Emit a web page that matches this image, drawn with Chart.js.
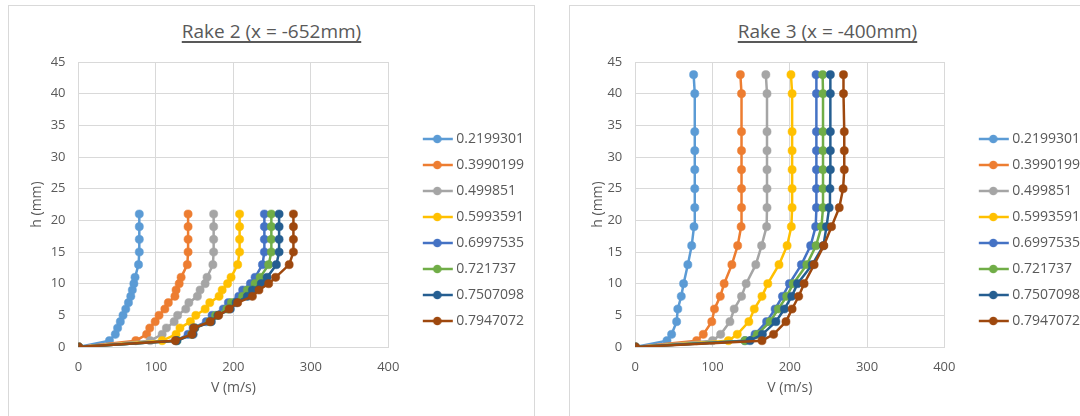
<!DOCTYPE html>
<html>
<head>
<meta charset="utf-8">
<script src="https://cdn.jsdelivr.net/npm/chart.js@4.4.1/dist/chart.umd.min.js"></script>
<style>
  body { margin: 0; background: #fff; width: 1080px; height: 416px; overflow: hidden; position: relative; font-family: 'Open Sans', sans-serif; }
  .panel { position: absolute; top: 5px; height: 430px; border: 1px solid #d9d9d9; box-sizing: border-box; background: #fff; }
  .title { position: absolute; top: 19px; line-height: 24px; text-align: center; font-size: 19px; color: #595959; }
  .title span { text-decoration: underline; text-underline-offset: 3px; text-decoration-thickness: 1.5px; }
  canvas { position: absolute; }
</style>
</head>
<body>
<div class="panel" style="left:8px; width:527px;"></div>
<div class="panel" style="left:569px; width:530px;"></div>
<div class="title" style="left:8px; width:527px;"><span>Rake 2 (x = -652mm)</span></div>
<div class="title" style="left:569px; width:517px;"><span>Rake 3 (x = -400mm)</span></div>
<canvas id="rake2" width="526" height="393" style="left:8px; top:5px;"></canvas>
<canvas id="rake3" width="526" height="393" style="left:569px; top:5px;"></canvas>
<script>
// series names (legend) and colours
var machLabels = ['0.2199301', '0.3990199', '0.499851', '0.5993591', '0.6997535', '0.721737', '0.7507098', '0.7947072'];
var lineColors = ['#5B9BD5', '#ED7D31', '#A5A5A5', '#FFC000', '#4472C4', '#70AD47', '#255E91', '#9E480E'];

// axis ticks
var xTicks = [0, 100, 200, 300, 400];
var yTicks = [0, 5, 10, 15, 20, 25, 30, 35, 40, 45];

// Rake 2 (x = -652mm): h (mm) and V (m/s) for each series
var rake2H  = [0, 1, 2, 3, 4, 5, 6, 7, 8, 9, 10, 11, 13, 15, 17, 19, 21];
var rake2V1 = [0, 40, 47.5, 50.5, 54, 57.5, 61, 64.5, 67.5, 69.5, 71.5, 73, 77.5, 78.5, 78.5, 78.5, 78.5];
var rake2V2 = [0, 74, 88, 92, 99, 104, 111.5, 116, 124.5, 126, 130, 132.5, 140.5, 141.5, 141.5, 141.5, 141.5];
var rake2V3 = [0, 92.5, 108, 113.5, 123.5, 128, 138.5, 142.5, 153.5, 157, 163.5, 166, 173.5, 174.5, 174.5, 174.5, 174.5];
var rake2V4 = [0, 108, 126, 131, 144.5, 151.5, 163.5, 169.5, 181.5, 185.5, 192.5, 197, 205.5, 208, 208, 208, 208];
var rake2V5 = [0, 126, 141.5, 148, 165, 172.5, 187, 193.5, 207, 212, 222, 228, 237.5, 240, 240, 240, 240];
var rake2V6 = [0, 127, 146, 150, 169.5, 177, 191.5, 197.5, 212, 218, 228, 234.5, 245.5, 249, 249, 249, 249];
var rake2V7 = [0, 127, 148, 150, 171.5, 180, 196, 203.5, 218, 224.5, 236, 243.5, 255.5, 259, 259, 259, 259];
var rake2V8 = [0, 125, 146.5, 149, 170, 181, 194.5, 205.5, 224.5, 233, 245.5, 254.5, 272, 277.5, 277.5, 277.5, 277.5];

// Rake 3 (x = -400mm)
var rake3H  = [0, 1, 2, 4, 6, 8, 10, 13, 16, 19, 22, 25, 28, 31, 34, 40, 43];
var rake3V1 = [0, 41, 47, 53.5, 55, 59.5, 62.5, 68, 73, 76, 77, 77, 77, 77, 77, 77, 75.5];
var rake3V2 = [0, 79.5, 88, 99, 102.5, 110, 115, 125, 132.5, 137, 137.5, 137.5, 137.5, 137.5, 137.5, 137.5, 136];
var rake3V3 = [0, 100, 110.5, 122.5, 128, 137.5, 143.5, 156, 163.5, 170, 170.5, 170.5, 170.5, 170.5, 170.5, 170.5, 169];
var rake3V4 = [0, 120.5, 132, 147, 154, 164, 171.5, 186, 196.5, 202, 203, 203, 203, 203, 203, 203, 201.5];
var rake3V5 = [0, 142, 155, 170, 181, 190.5, 199.5, 215, 227, 233.5, 234.5, 234.5, 234.5, 234.5, 234.5, 234.5, 234];
var rake3V6 = [0, 142, 158, 174.5, 185, 196, 204.5, 222, 234, 241, 243, 243, 243, 243, 243, 243, 242.5];
var rake3V7 = [0, 148.5, 164.5, 182, 193, 202.5, 210, 229, 243.5, 247.5, 251, 252, 252.5, 252.5, 252.5, 252.5, 252.5];
var rake3V8 = [0, 164, 179, 195, 203, 211.5, 218.5, 231.5, 244, 254, 264, 269, 270.5, 270.5, 270.5, 269.5, 269.5];

var rake2Series = [rake2V1, rake2V2, rake2V3, rake2V4, rake2V5, rake2V6, rake2V7, rake2V8];
var rake3Series = [rake3V1, rake3V2, rake3V3, rake3V4, rake3V5, rake3V6, rake3V7, rake3V8];

Chart.defaults.font.family = "'Open Sans', sans-serif";
Chart.defaults.color = '#595959';

// little line + dot picture for the legend, like excel draws it
function legendIcon(color) {
    var c = document.createElement('canvas');
    c.width = 60;
    c.height = 12;
    var g = c.getContext('2d');
    g.strokeStyle = color;
    g.lineWidth = 2.5;
    g.beginPath();
    g.moveTo(28, 6);
    g.lineTo(58, 6);
    g.stroke();
    g.fillStyle = color;
    g.beginPath();
    g.arc(42.5, 6, 4.3, 0, Math.PI * 2);
    g.fill();
    return c;
}
var icons = lineColors.map(legendIcon);

function makeChart(id, hValues, series, yWidth, plotRight) {
    var datasets = series.map(function (vals, i) {
        return {
            label: machLabels[i],
            data: vals.map(function (v, k) { return {x: v, y: hValues[k]}; }),
            showLine: true,
            borderColor: lineColors[i],
            backgroundColor: lineColors[i],
            pointBackgroundColor: lineColors[i],
            pointBorderColor: lineColors[i],
            borderWidth: 2.5,
            pointRadius: 4.1,
            pointBorderWidth: 0.5,
            order: series.length - i
        };
    });
    var grid = {color: '#D9D9D9', lineWidth: 1, drawTicks: false};
    var chart = new Chart(document.getElementById(id), {
        type: 'scatter',
        data: {datasets: datasets},
        options: {
            responsive: false,
            animation: false,
            devicePixelRatio: 1,
            layout: {padding: {top: 57, left: 0, bottom: 0, right: 8}},
            plugins: {
                tooltip: {enabled: false},
                legend: {
                    position: 'right',
                    align: 'center',
                    maxWidth: 220,
                    labels: {
                        usePointStyle: true,
                        pointStyleWidth: 49,
                        padding: 12,
                        color: '#595959',
                        font: {size: 14},
                        sort: function (a, b) { return a.datasetIndex - b.datasetIndex; },
                        generateLabels: function (chart) {
                            var items = Chart.defaults.plugins.legend.labels.generateLabels(chart);
                            items.forEach(function (it) { it.pointStyle = icons[it.datasetIndex]; });
                            return items;
                        }
                    }
                }
            },
            scales: {
                x: {
                    type: 'linear',
                    min: xTicks[0],
                    max: xTicks[xTicks.length - 1],
                    ticks: {stepSize: xTicks[1] - xTicks[0], padding: 12, color: '#595959', font: {size: 13}},
                    grid: grid,
                    border: {color: '#D9D9D9'},
                    title: {display: true, text: 'V (m/s)', color: '#595959', font: {size: 14}, padding: {top: 0, bottom: 2}},
                    afterFit: function (s) { s.height = 51; }
                },
                y: {
                    min: yTicks[0],
                    max: yTicks[yTicks.length - 1],
                    ticks: {stepSize: yTicks[1] - yTicks[0], padding: 13, color: '#595959', font: {size: 13}},
                    grid: grid,
                    border: {color: '#D9D9D9'},
                    title: {display: true, text: 'h (mm)', color: '#595959', font: {size: 14}, padding: {top: 21, bottom: 0}},
                    afterFit: function (s) { s.width = yWidth; }
                }
            }
        }
    });
    // nudge the right padding so the plot ends where the legend leaves room
    chart.options.layout.padding.right += chart.chartArea.right - plotRight;
    chart.update();
    return chart;
}

var chart2 = makeChart('rake2', rake2H, rake2Series, 70.5, 380.3);
var chart3 = makeChart('rake3', rake3H, rake3Series, 66.3, 375.3);
</script>
</body>
</html>
